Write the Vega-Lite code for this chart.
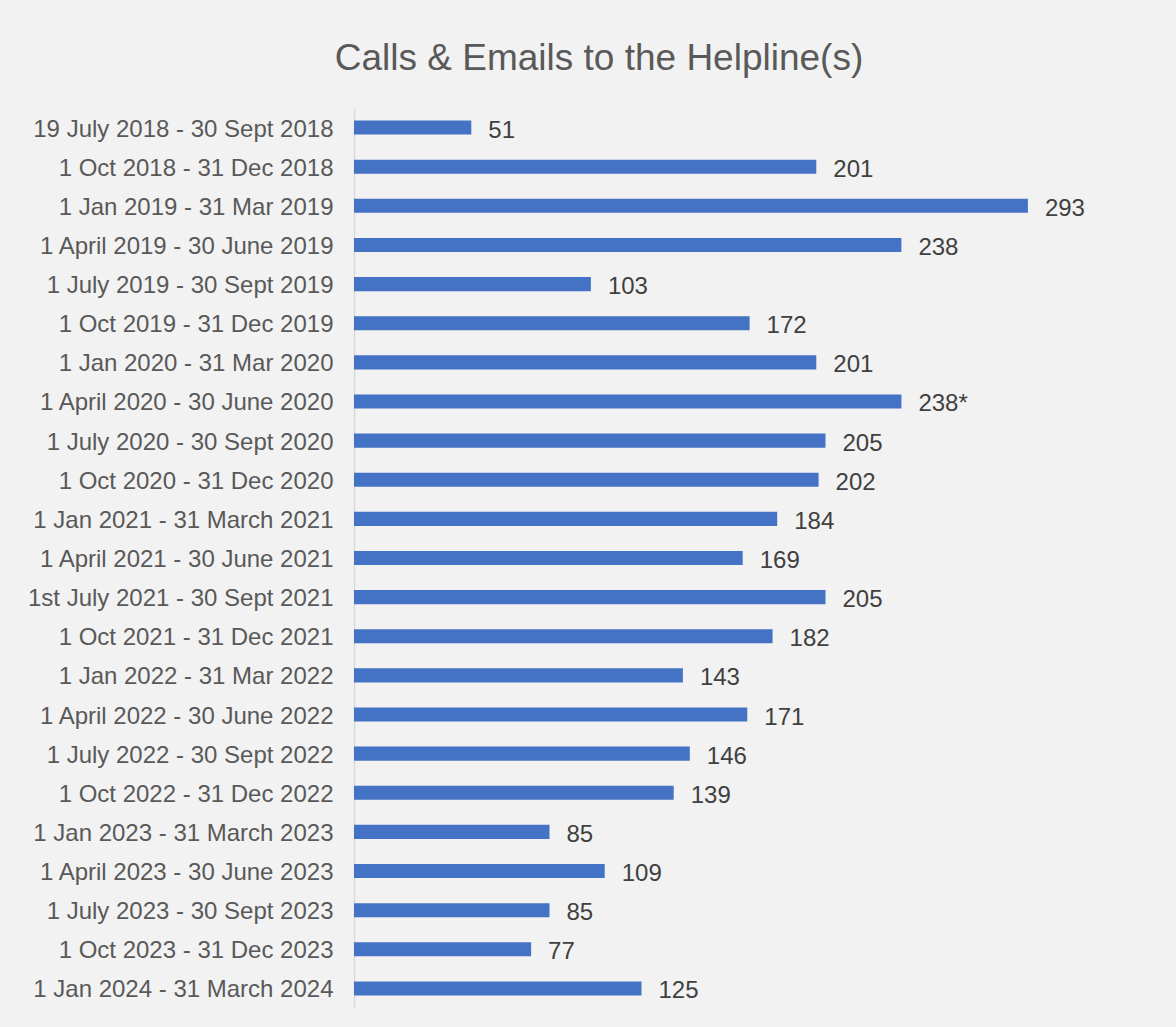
{
  "$schema": "https://vega.github.io/schema/vega-lite/v6.json",
  "width": 690,
  "height": 900,
  "autosize": {"type": "none"},
  "padding": {"left": 354, "top": 108, "right": 132, "bottom": 19},
  "background": "#f2f2f2",
  "title": {
    "text": "Calls & Emails to the Helpline(s)",
    "font": "Liberation Sans",
    "fontSize": 37,
    "fontWeight": "normal",
    "color": "#595959",
    "anchor": "middle",
    "dx": -100,
    "offset": 30
  },
  "data": {
    "values": [
      {"period": "19 July 2018 - 30 Sept 2018", "value": 51, "label": "51"},
      {"period": "1 Oct 2018 - 31 Dec 2018", "value": 201, "label": "201"},
      {"period": "1 Jan 2019 - 31 Mar 2019", "value": 293, "label": "293"},
      {"period": "1 April 2019 - 30 June 2019", "value": 238, "label": "238"},
      {"period": "1 July 2019 - 30 Sept 2019", "value": 103, "label": "103"},
      {"period": "1 Oct 2019 - 31 Dec 2019", "value": 172, "label": "172"},
      {"period": "1 Jan 2020 - 31 Mar 2020", "value": 201, "label": "201"},
      {"period": "1 April 2020 - 30 June 2020", "value": 238, "label": "238*"},
      {"period": "1 July 2020 - 30 Sept 2020", "value": 205, "label": "205"},
      {"period": "1 Oct 2020 - 31 Dec 2020", "value": 202, "label": "202"},
      {"period": "1 Jan 2021 - 31 March 2021", "value": 184, "label": "184"},
      {"period": "1 April 2021 - 30 June 2021", "value": 169, "label": "169"},
      {"period": "1st July 2021 - 30 Sept 2021", "value": 205, "label": "205"},
      {"period": "1 Oct 2021 - 31 Dec 2021", "value": 182, "label": "182"},
      {"period": "1 Jan 2022 - 31 Mar 2022", "value": 143, "label": "143"},
      {"period": "1 April 2022 - 30 June 2022", "value": 171, "label": "171"},
      {"period": "1 July 2022 - 30 Sept 2022", "value": 146, "label": "146"},
      {"period": "1 Oct 2022 - 31 Dec 2022", "value": 139, "label": "139"},
      {"period": "1 Jan 2023 - 31 March 2023", "value": 85, "label": "85"},
      {"period": "1 April 2023 - 30 June 2023", "value": 109, "label": "109"},
      {"period": "1 July 2023 - 30 Sept 2023", "value": 85, "label": "85"},
      {"period": "1 Oct 2023 - 31 Dec 2023", "value": 77, "label": "77"},
      {"period": "1 Jan 2024 - 31 March 2024", "value": 125, "label": "125"}
    ]
  },
  "encoding": {
    "y": {
      "field": "period",
      "type": "nominal",
      "sort": null,
      "scale": {"paddingInner": 0.64, "paddingOuter": 0.32},
      "axis": {
        "title": null,
        "ticks": false,
        "labelFont": "Liberation Sans",
        "labelFontSize": 24,
        "labelColor": "#595959",
        "labelPadding": 21,
        "labelOffset": 2,
        "labelLimit": 400,
        "domainColor": "#d9d9d9",
        "domainWidth": 1.5
      }
    },
    "x": {
      "field": "value",
      "type": "quantitative",
      "scale": {"domain": [0, 300]},
      "axis": null
    }
  },
  "layer": [
    {"mark": {"type": "bar", "color": "#4472c4"}},
    {
      "mark": {
        "type": "text",
        "align": "left",
        "baseline": "middle",
        "dx": 17,
        "dy": 3,
        "font": "Liberation Sans",
        "fontSize": 24,
        "color": "#404040"
      },
      "encoding": {"text": {"field": "label"}}
    }
  ],
  "config": {"view": {"stroke": null}}
}
